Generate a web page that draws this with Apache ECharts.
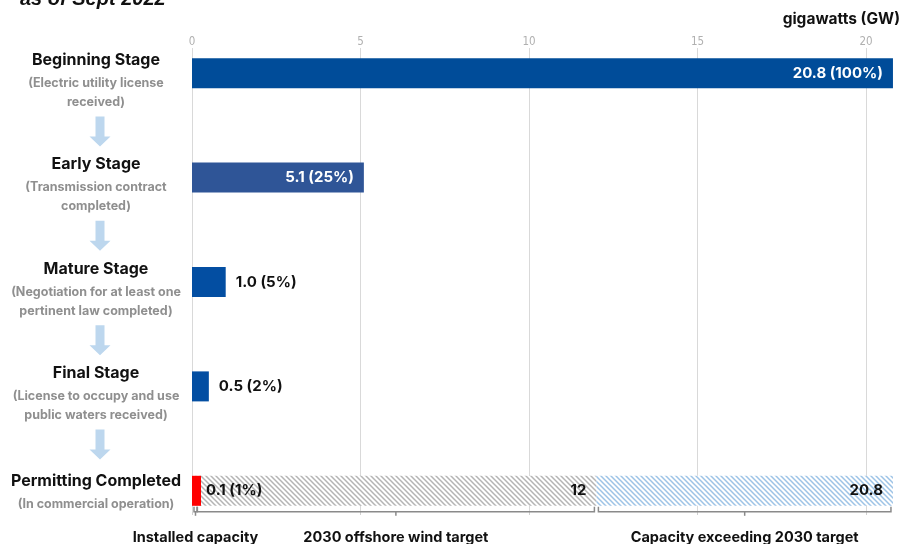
<!DOCTYPE html>
<html>
<head>
<meta charset="utf-8">
<script src="https://cdn.jsdelivr.net/npm/echarts@6/dist/echarts.min.js"></script>
<style>
  html, body { margin: 0; padding: 0; background: #fff; }
  #chart { width: 904px; height: 544px; }
</style>
</head>
<body>
<div id="chart"></div>
<script>
// Offshore wind pipeline by permitting stage, as of Sept 2022 (GW)
const stages = ['Beginning Stage', 'Early Stage', 'Mature Stage', 'Final Stage', 'Permitting Completed'];
const stageNotes = [
  ['(Electric utility license', 'received)'],
  ['(Transmission contract', 'completed)'],
  ['(Negotiation for at least one', 'pertinent law completed)'],
  ['(License to occupy and use', 'public waters received)'],
  ['(In commercial operation)']
];
const capacity = [20.8, 5.1, 1.0, 0.5, 0.1];
const shares = [100, 25, 5, 2, 1];
const targetValue = 12;      // 2030 offshore wind target
const pipelineTotal = 20.8;  // whole pipeline
const xTicks = [0, 5, 10, 15, 20];
const bracketLabels = ['Installed capacity', '2030 offshore wind target', 'Capacity exceeding 2030 target'];

const FONT = 'Inter, "Noto Sans", sans-serif';
const barColors = ['#004c99', '#2f5597', '#034ea2', '#034ea2', '#ff0000'];
const last = stages.length - 1;

// diagonal hatch fill for the target bars
function hatch(color) {
  const size = 5;
  const c = document.createElement('canvas');
  c.width = c.height = size;
  const ctx = c.getContext('2d');
  ctx.fillStyle = '#fff';
  ctx.fillRect(0, 0, size, size);
  ctx.strokeStyle = color;
  ctx.lineWidth = 1.5;
  ctx.beginPath();
  ctx.moveTo(-1, -1); ctx.lineTo(size + 1, size + 1);
  ctx.moveTo(-1, size - 1); ctx.lineTo(1, size + 1);
  ctx.moveTo(size - 1, -1); ctx.lineTo(size + 1, 1);
  ctx.stroke();
  return { image: c, repeat: 'repeat' };
}

const chart = echarts.init(document.getElementById('chart'));

const capacityData = capacity.map((v, i) => {
  const item = { value: v, itemStyle: { color: barColors[i] } };
  const txt = v.toFixed(1) + ' (' + shares[i] + '%)';
  if (i < 2) {
    item.label = { show: true, position: 'insideRight', distance: 10, color: '#fff', formatter: txt };
  } else {
    item.label = { show: true, position: 'right', distance: i === last ? 5 : 10, color: '#111', formatter: txt };
  }
  return item;
});

const targetData = stages.map((s, i) => i === last ? targetValue - capacity[last] : '-');
const exceedData = stages.map((s, i) => i === last ? pipelineTotal - targetValue : '-');
const brackets = [
  [0, capacity[last], last, 0],
  [capacity[last], targetValue, last, 1],
  [targetValue, pipelineTotal, last, 2]
];

const option = {
  animation: false,
  textStyle: { fontFamily: FONT },
  grid: [
    { left: 192, right: 38, top: 48, bottom: 29 },
    { left: 192, right: 38, top: 21, bottom: 1 }
  ],
  xAxis: [
    {
      gridIndex: 0, type: 'value', position: 'top',
      min: xTicks[0], max: xTicks[xTicks.length - 1], interval: 5,
      axisLine: { show: false },
      axisTick: { show: true, length: 3, lineStyle: { color: '#d0d0d0' } },
      axisLabel: {
        color: '#b0b0b0', fontSize: 11.5, margin: 0,
        fontFamily: '"Liberation Sans Narrow", "DejaVu Sans Condensed", Roboto, sans-serif'
      },
      splitLine: { lineStyle: { color: '#d9d9d9', width: 1 } }
    },
    {
      gridIndex: 1, type: 'value',
      min: xTicks[0], max: xTicks[xTicks.length - 1],
      show: false
    }
  ],
  yAxis: [
    { gridIndex: 0, type: 'value', show: false },
    {
      gridIndex: 1, type: 'category', inverse: true, data: stages,
      axisLine: { show: false },
      axisTick: { show: false },
      axisLabel: {
        align: 'center', margin: 96,
        formatter: (value) => {
          const notes = stageNotes[stages.indexOf(value)];
          const lead = notes.length > 1 ? '{sp| }\n' : '';
          return lead + '{t|' + value + '}\n' + notes.map(n => '{s|' + n + '}').join('\n');
        },
        rich: {
          sp: { fontSize: 1, lineHeight: 12 },
          t: { fontSize: 16, fontWeight: 'bold', color: '#111', lineHeight: 27, fontFamily: FONT, align: 'center' },
          s: { fontSize: 12.5, fontWeight: 'bold', color: '#8f8f8f', lineHeight: 19, fontFamily: FONT, align: 'center' }
        }
      }
    }
  ],
  series: [
    {
      name: 'Capacity', type: 'bar', stack: 'gw', z: 3,
      xAxisIndex: 1, yAxisIndex: 1, barWidth: 30, barMinHeight: 9, clip: false,
      label: { fontSize: 15, fontWeight: 'bold', fontFamily: FONT },
      data: capacityData
    },
    {
      name: '2030 target', type: 'bar', stack: 'gw',
      xAxisIndex: 1, yAxisIndex: 1, barWidth: 28, clip: false,
      itemStyle: { color: hatch('#b4b4b4') },
      label: {
        show: true, position: 'insideRight', distance: 10,
        color: '#111', fontSize: 15, fontWeight: 'bold', fontFamily: FONT,
        formatter: () => String(targetValue)
      },
      data: targetData
    },
    {
      name: 'Exceeding target', type: 'bar', stack: 'gw',
      xAxisIndex: 1, yAxisIndex: 1, barWidth: 28, clip: false,
      itemStyle: { color: hatch('#9dc3e6') },
      label: {
        show: true, position: 'insideRight', distance: 10,
        color: '#111', fontSize: 15, fontWeight: 'bold', fontFamily: FONT,
        formatter: () => String(pipelineTotal)
      },
      data: exceedData
    },
    {
      name: 'Brackets', type: 'custom',
      xAxisIndex: 1, yAxisIndex: 1, clip: false, silent: true,
      encode: { x: [0, 1], y: 2 },
      renderItem: (params, api) => {
        const a = api.coord([api.value(0), api.value(2)]);
        const b = api.coord([api.value(1), api.value(2)]);
        const y = a[1] + 21;
        const x1 = a[0] + 2, x2 = Math.max(b[0] - 2, x1 + 3);
        const xm = (x1 + x2) / 2;
        const stroke = { stroke: '#8a8a8a', lineWidth: 1.5, fill: null };
        return {
          type: 'group',
          children: [
            { type: 'polyline', shape: { points: [[x1, y - 5], [x1, y], [x2, y], [x2, y - 5]] }, style: stroke },
            { type: 'line', shape: { x1: xm, y1: y, x2: xm, y2: y + 4 }, style: stroke },
            {
              type: 'text',
              style: {
                x: xm, y: y + 26, text: bracketLabels[api.value(3)],
                align: 'center', verticalAlign: 'middle',
                font: 'bold 14.5px ' + FONT, fill: '#111'
              }
            }
          ]
        };
      },
      data: brackets
    }
  ],
  graphic: [
    {
      type: 'text', left: 20, top: -11,
      style: { text: 'as of Sept 2022', font: 'italic bold 20px "Liberation Sans", Arial, sans-serif', fill: '#111' }
    },
    {
      type: 'text', right: 4, top: 11,
      style: { text: 'gigawatts (GW)', font: 'bold 15.5px ' + FONT, fill: '#111' }
    }
  ]
};

chart.setOption(option);

// down arrows between the stage labels
const arrows = [];
for (let i = 0; i < last; i++) {
  const y0 = chart.convertToPixel({ yAxisIndex: 1 }, stages[i]);
  const y1 = chart.convertToPixel({ yAxisIndex: 1 }, stages[i + 1]);
  const top = (y0 + y1) / 2 + 6 - 15;
  const cx = 100;
  arrows.push({
    type: 'polygon', silent: true,
    shape: {
      points: [
        [cx - 4.5, top], [cx + 4.5, top], [cx + 4.5, top + 20], [cx + 10.5, top + 20],
        [cx, top + 30], [cx - 10.5, top + 20], [cx - 4.5, top + 20]
      ]
    },
    style: { fill: '#bdd7ee' }
  });
}
chart.setOption({ graphic: option.graphic.concat(arrows) });
</script>
</body>
</html>
